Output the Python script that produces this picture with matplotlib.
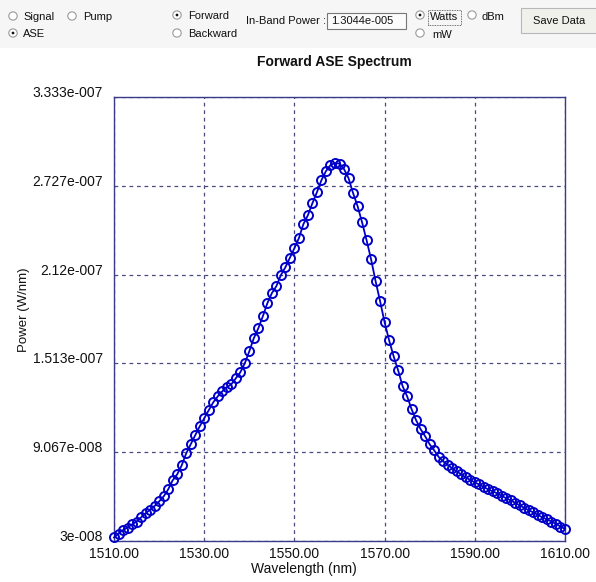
import matplotlib
matplotlib.use("Agg")
import matplotlib.pyplot as plt
from matplotlib.patches import Rectangle, Circle
from matplotlib.transforms import ScaledTranslation

plt.rcParams['font.family'] = ['Liberation Sans', 'DejaVu Sans']

# ---- data ----
wavelength_nm = list(range(1510, 1611))
power_e7 = [  # W/nm, in units of 1e-7
    0.324, 0.351, 0.375, 0.392, 0.413, 0.433, 0.461, 0.488, 0.515, 0.539,
    0.570, 0.604, 0.652, 0.714, 0.755, 0.816, 0.898, 0.960, 1.022, 1.083,
    1.138, 1.193, 1.247, 1.288, 1.322, 1.350, 1.370, 1.411, 1.452, 1.514,
    1.596, 1.685, 1.753, 1.835, 1.924, 1.993, 2.041, 2.116, 2.170, 2.235,
    2.300, 2.369, 2.465, 2.526, 2.608, 2.683, 2.765, 2.827, 2.868, 2.882,
    2.878, 2.841, 2.779, 2.677, 2.588, 2.478, 2.355, 2.225, 2.075, 1.938,
    1.794, 1.671, 1.562, 1.466, 1.357, 1.288, 1.199, 1.124, 1.063, 1.015,
    0.960, 0.919, 0.874, 0.844, 0.820, 0.796, 0.775, 0.755, 0.734, 0.717,
    0.700, 0.686, 0.669, 0.652, 0.639, 0.625, 0.608, 0.591, 0.577, 0.560,
    0.543, 0.526, 0.509, 0.495, 0.478, 0.461, 0.447, 0.433, 0.416, 0.399,
    0.382,
]
power = [v * 1e-7 for v in power_e7]

xticks = [1510, 1530, 1550, 1570, 1590, 1610]
xtick_labels = ["1510.00", "1530.00", "1550.00", "1570.00", "1590.00", "1610.00"]
yticks = [3e-8, 9.067e-8, 1.513e-7, 2.12e-7, 2.727e-7, 3.333e-7]
ytick_labels = ["3e-008", "9.067e-008", "1.513e-007", "2.12e-007", "2.727e-007", "3.333e-007"]

W, H = 596, 582
fig = plt.figure(figsize=(W / 100, H / 100), dpi=100)
fig.patch.set_facecolor("white")

def fx(px):
    return px / W

def fy(py):
    return 1 - py / H

# ---- top UI panel ----
fig.patches.append(Rectangle((0, fy(48)), 1, 48 / H, transform=fig.transFigure,
                             facecolor="#f6f6f6", edgecolor="none", zorder=0))

ui_font = dict(fontsize=8, color="#111111", va="center", ha="left")

def radio(x, y, selected):
    c = Circle((fx(x), fy(y)), 4.2 / W, transform=fig.transFigure,
               facecolor="white", edgecolor="#9a9a9a", linewidth=0.8, zorder=2)
    fig.patches.append(c)
    if selected:
        fig.patches.append(Circle((fx(x), fy(y)), 1.4 / W, transform=fig.transFigure,
                                  facecolor="#111111", edgecolor="none", zorder=3))

radio(13, 16, False); fig.text(fx(23), fy(17), "Signal", **ui_font)
radio(72, 16, False); fig.text(fx(83), fy(17), "Pump", **ui_font)
radio(13, 33, True); fig.text(fx(23), fy(34), "ASE", **ui_font)
radio(177, 15, True); fig.text(fx(188), fy(16), "Forward", **ui_font)
radio(177, 33, False); fig.text(fx(188), fy(34), "Backward", **ui_font)
fig.text(fx(246), fy(21), "In-Band Power :", **ui_font)
fig.patches.append(Rectangle((fx(327), fy(29)), 79 / W, 16 / H, transform=fig.transFigure,
                             facecolor="#fbfbfb", edgecolor="#777777", linewidth=0.8, zorder=2))
fig.text(fx(331), fy(21.5), "1.3044e-005", **ui_font)
radio(420, 15, True)
fig.patches.append(Rectangle((fx(428), fy(25)), 33 / W, 15 / H, transform=fig.transFigure,
                             facecolor="none", edgecolor="#444444", linewidth=0.6,
                             linestyle=(0, (1, 1)), zorder=2))
fig.text(fx(430), fy(17), "Watts", **ui_font)
radio(420, 33, False); fig.text(fx(432), fy(35), "mW", **ui_font)
radio(472, 15, False); fig.text(fx(481), fy(17), "dBm", **ui_font)
fig.patches.append(Rectangle((fx(521), fy(33)), 80 / W, 25 / H, transform=fig.transFigure,
                             facecolor="#f1f1ec", edgecolor="#b8b8b8", linewidth=0.8, zorder=2))
fig.text(fx(533), fy(21.5), "Save Data", **ui_font)

# ---- chart ----
left, right, top, bottom = 114, 565, 97, 541
ax = fig.add_axes([fx(left), fy(bottom), (right - left) / W, (bottom - top) / H])
ax.plot(wavelength_nm, power, color="#0000c8", linewidth=1.3, marker="o",
        markersize=6.5, markerfacecolor="none", markeredgecolor="#0000c8",
        markeredgewidth=1.4, clip_on=False, zorder=3)

ax.set_xlim(1510, 1610)
ax.set_ylim(3e-8, 3.333e-7)
ax.set_xticks(xticks)
ax.set_xticklabels(xtick_labels)
ax.set_yticks(yticks)
ax.set_yticklabels(ytick_labels)
ax.tick_params(length=0, labelsize=10, labelcolor="#111111")
ax.tick_params(axis="x", pad=4)
ax.tick_params(axis="y", pad=8)
for lab in ax.get_yticklabels():
    lab.set_transform(lab.get_transform() + ScaledTranslation(0, 4 / 72, fig.dpi_scale_trans))

ax.grid(True, color="#4a4a80", linestyle=(0, (3, 3)), linewidth=0.9)
for s in ax.spines.values():
    s.set_color("#3a3a8a")
    s.set_linewidth(1.0)

ax.set_xlabel("Wavelength (nm)", fontsize=10, color="#111111")
ax.xaxis.set_label_coords(0.42, -0.047)
ax.set_ylabel("Power (W/nm)", fontsize=9.5, color="#111111")
ax.yaxis.set_label_coords(-0.186, 0.52)
fig.text(fx(334), fy(62), "Forward ASE Spectrum", fontsize=10, fontweight="bold",
         ha="center", va="center", color="#111111")

fig.savefig("out.png", dpi=100, facecolor="white")
